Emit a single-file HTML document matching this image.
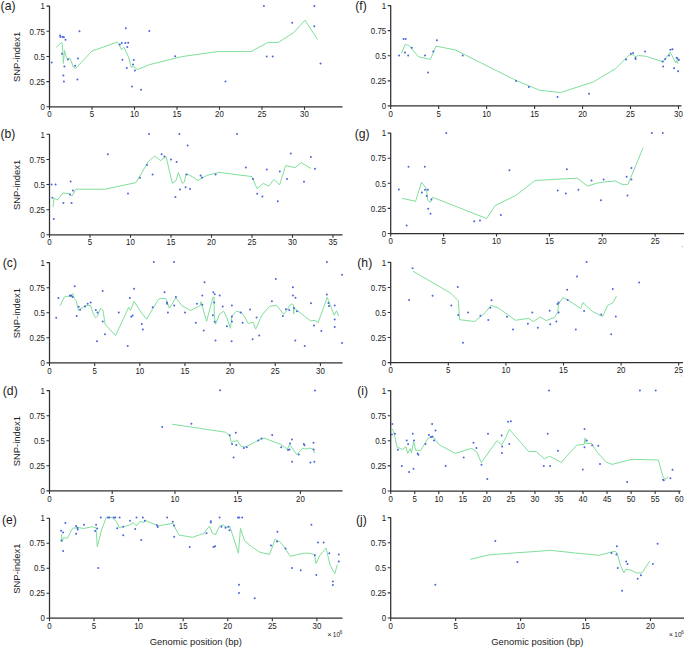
<!DOCTYPE html>
<html><head><meta charset="utf-8"><style>
html,body{margin:0;padding:0;background:#fff;}
body{width:685px;height:648px;overflow:hidden;}
svg{display:block;}
text{font-family:"Liberation Sans",sans-serif;fill:#1a1a1a;}
</style></head><body>
<svg width="685" height="648" viewBox="0 0 685 648">
<path d="M49.50 5.80V106.80H342.50" fill="none" stroke="#303030" stroke-width="1.25"/>
<path d="M46.50 106.80H49.50M46.50 81.62H49.50M46.50 56.45H49.50M46.50 31.27H49.50M46.50 6.10H49.50M49.50 106.80V109.80M92.00 106.80V109.80M134.50 106.80V109.80M177.00 106.80V109.80M219.50 106.80V109.80M262.00 106.80V109.80M304.50 106.80V109.80" fill="none" stroke="#303030" stroke-width="1.1"/>
<text x="48.91" y="110.10" transform="scale(0.92 1)" text-anchor="end" font-size="8.6">0</text>
<text x="48.91" y="84.92" transform="scale(0.92 1)" text-anchor="end" font-size="8.6">0.25</text>
<text x="48.91" y="59.75" transform="scale(0.92 1)" text-anchor="end" font-size="8.6">0.5</text>
<text x="48.91" y="34.57" transform="scale(0.92 1)" text-anchor="end" font-size="8.6">0.75</text>
<text x="48.91" y="9.40" transform="scale(0.92 1)" text-anchor="end" font-size="8.6">1</text>
<text x="53.80" y="117.50" transform="scale(0.92 1)" text-anchor="middle" font-size="8.6">0</text>
<text x="100.00" y="117.50" transform="scale(0.92 1)" text-anchor="middle" font-size="8.6">5</text>
<text x="146.20" y="117.50" transform="scale(0.92 1)" text-anchor="middle" font-size="8.6">10</text>
<text x="192.39" y="117.50" transform="scale(0.92 1)" text-anchor="middle" font-size="8.6">15</text>
<text x="238.59" y="117.50" transform="scale(0.92 1)" text-anchor="middle" font-size="8.6">20</text>
<text x="284.78" y="117.50" transform="scale(0.92 1)" text-anchor="middle" font-size="8.6">25</text>
<text x="330.98" y="117.50" transform="scale(0.92 1)" text-anchor="middle" font-size="8.6">30</text>
<text x="0.60" y="9.80" font-size="12.2">(a)</text>
<text transform="translate(19.7 56.85) rotate(-90)" text-anchor="middle" font-size="9.5" textLength="50.3" lengthAdjust="spacingAndGlyphs">SNP-index1</text>
<path d="M56.2 47.6 L61.5 42.2 L62.3 44.0 L63.4 63.4 L64.5 50.2 L65.8 55.7 L67.2 58.8 L70.1 58.4 L72.0 63.4 L73.4 67.2 L75.8 68.2 L92.0 51.0 L117.5 42.0 L121.6 49.8 L123.9 47.2 L128.5 57.0 L131.4 67.4 L133.1 66.2 L134.0 67.0 L137.4 69.5 L150.0 64.5 L182.0 56.6 L217.5 51.6 L251.0 51.6 L268.1 42.4 L278.4 42.4 L293.4 32.8 L305.0 20.2 L317.6 39.5" fill="none" stroke="#80df9c" stroke-width="1" stroke-linejoin="round"/>
<path d="M50.70 62.60a1.0 1.0 0 1 0 2.0 0a1.0 1.0 0 1 0 -2.0 0M59.00 35.50a1.0 1.0 0 1 0 2.0 0a1.0 1.0 0 1 0 -2.0 0M59.50 37.10a1.0 1.0 0 1 0 2.0 0a1.0 1.0 0 1 0 -2.0 0M61.60 36.80a1.0 1.0 0 1 0 2.0 0a1.0 1.0 0 1 0 -2.0 0M62.90 37.30a1.0 1.0 0 1 0 2.0 0a1.0 1.0 0 1 0 -2.0 0M64.50 39.70a1.0 1.0 0 1 0 2.0 0a1.0 1.0 0 1 0 -2.0 0M61.00 53.80a1.0 1.0 0 1 0 2.0 0a1.0 1.0 0 1 0 -2.0 0M66.90 59.60a1.0 1.0 0 1 0 2.0 0a1.0 1.0 0 1 0 -2.0 0M63.40 66.50a1.0 1.0 0 1 0 2.0 0a1.0 1.0 0 1 0 -2.0 0M62.40 75.50a1.0 1.0 0 1 0 2.0 0a1.0 1.0 0 1 0 -2.0 0M62.90 81.60a1.0 1.0 0 1 0 2.0 0a1.0 1.0 0 1 0 -2.0 0M74.10 65.80a1.0 1.0 0 1 0 2.0 0a1.0 1.0 0 1 0 -2.0 0M76.90 58.60a1.0 1.0 0 1 0 2.0 0a1.0 1.0 0 1 0 -2.0 0M76.40 79.60a1.0 1.0 0 1 0 2.0 0a1.0 1.0 0 1 0 -2.0 0M78.50 31.20a1.0 1.0 0 1 0 2.0 0a1.0 1.0 0 1 0 -2.0 0M124.80 28.30a1.0 1.0 0 1 0 2.0 0a1.0 1.0 0 1 0 -2.0 0M148.30 31.00a1.0 1.0 0 1 0 2.0 0a1.0 1.0 0 1 0 -2.0 0M118.80 44.60a1.0 1.0 0 1 0 2.0 0a1.0 1.0 0 1 0 -2.0 0M120.80 42.90a1.0 1.0 0 1 0 2.0 0a1.0 1.0 0 1 0 -2.0 0M124.40 42.90a1.0 1.0 0 1 0 2.0 0a1.0 1.0 0 1 0 -2.0 0M127.20 42.70a1.0 1.0 0 1 0 2.0 0a1.0 1.0 0 1 0 -2.0 0M126.30 46.90a1.0 1.0 0 1 0 2.0 0a1.0 1.0 0 1 0 -2.0 0M121.40 59.70a1.0 1.0 0 1 0 2.0 0a1.0 1.0 0 1 0 -2.0 0M132.80 59.90a1.0 1.0 0 1 0 2.0 0a1.0 1.0 0 1 0 -2.0 0M132.10 64.50a1.0 1.0 0 1 0 2.0 0a1.0 1.0 0 1 0 -2.0 0M125.80 68.00a1.0 1.0 0 1 0 2.0 0a1.0 1.0 0 1 0 -2.0 0M133.90 70.50a1.0 1.0 0 1 0 2.0 0a1.0 1.0 0 1 0 -2.0 0M131.00 86.50a1.0 1.0 0 1 0 2.0 0a1.0 1.0 0 1 0 -2.0 0M140.00 89.70a1.0 1.0 0 1 0 2.0 0a1.0 1.0 0 1 0 -2.0 0M174.20 56.20a1.0 1.0 0 1 0 2.0 0a1.0 1.0 0 1 0 -2.0 0M224.50 81.40a1.0 1.0 0 1 0 2.0 0a1.0 1.0 0 1 0 -2.0 0M262.90 5.90a1.0 1.0 0 1 0 2.0 0a1.0 1.0 0 1 0 -2.0 0M265.70 56.40a1.0 1.0 0 1 0 2.0 0a1.0 1.0 0 1 0 -2.0 0M271.70 56.40a1.0 1.0 0 1 0 2.0 0a1.0 1.0 0 1 0 -2.0 0M291.20 22.80a1.0 1.0 0 1 0 2.0 0a1.0 1.0 0 1 0 -2.0 0M313.30 5.90a1.0 1.0 0 1 0 2.0 0a1.0 1.0 0 1 0 -2.0 0M313.30 26.20a1.0 1.0 0 1 0 2.0 0a1.0 1.0 0 1 0 -2.0 0M319.50 63.50a1.0 1.0 0 1 0 2.0 0a1.0 1.0 0 1 0 -2.0 0" fill="#4a66de"/>
<path d="M49.50 134.00V234.80H342.50" fill="none" stroke="#303030" stroke-width="1.25"/>
<path d="M46.50 234.80H49.50M46.50 209.68H49.50M46.50 184.55H49.50M46.50 159.43H49.50M46.50 134.30H49.50M49.50 234.80V237.80M90.00 234.80V237.80M130.50 234.80V237.80M171.00 234.80V237.80M211.50 234.80V237.80M252.00 234.80V237.80M292.50 234.80V237.80M333.00 234.80V237.80" fill="none" stroke="#303030" stroke-width="1.1"/>
<text x="48.91" y="238.10" transform="scale(0.92 1)" text-anchor="end" font-size="8.6">0</text>
<text x="48.91" y="212.98" transform="scale(0.92 1)" text-anchor="end" font-size="8.6">0.25</text>
<text x="48.91" y="187.85" transform="scale(0.92 1)" text-anchor="end" font-size="8.6">0.5</text>
<text x="48.91" y="162.73" transform="scale(0.92 1)" text-anchor="end" font-size="8.6">0.75</text>
<text x="48.91" y="137.60" transform="scale(0.92 1)" text-anchor="end" font-size="8.6">1</text>
<text x="53.80" y="245.50" transform="scale(0.92 1)" text-anchor="middle" font-size="8.6">0</text>
<text x="97.83" y="245.50" transform="scale(0.92 1)" text-anchor="middle" font-size="8.6">5</text>
<text x="141.85" y="245.50" transform="scale(0.92 1)" text-anchor="middle" font-size="8.6">10</text>
<text x="185.87" y="245.50" transform="scale(0.92 1)" text-anchor="middle" font-size="8.6">15</text>
<text x="229.89" y="245.50" transform="scale(0.92 1)" text-anchor="middle" font-size="8.6">20</text>
<text x="273.91" y="245.50" transform="scale(0.92 1)" text-anchor="middle" font-size="8.6">25</text>
<text x="317.93" y="245.50" transform="scale(0.92 1)" text-anchor="middle" font-size="8.6">30</text>
<text x="361.96" y="245.50" transform="scale(0.92 1)" text-anchor="middle" font-size="8.6">35</text>
<text x="0.40" y="138.00" font-size="12.2">(b)</text>
<text transform="translate(19.7 184.95) rotate(-90)" text-anchor="middle" font-size="9.5" textLength="50.3" lengthAdjust="spacingAndGlyphs">SNP-index1</text>
<path d="M53.0 207.0 L54.0 198.4 L57.4 200.0 L63.0 193.0 L69.0 193.6 L72.0 196.0 L76.0 189.2 L105.0 189.2 L136.0 182.6 L148.0 162.0 L154.6 156.0 L160.6 160.6 L166.0 156.6 L172.4 183.4 L176.0 180.6 L178.4 172.6 L182.4 183.4 L184.4 182.0 L186.0 174.0 L190.0 175.4 L198.0 180.4 L207.0 175.4 L219.0 172.4 L252.0 176.6 L257.0 188.6 L263.4 183.4 L268.6 186.2 L274.0 179.4 L279.6 185.0 L285.7 165.5 L295.0 167.6 L301.3 162.6 L310.9 168.5" fill="none" stroke="#80df9c" stroke-width="1" stroke-linejoin="round"/>
<path d="M50.60 184.40a1.0 1.0 0 1 0 2.0 0a1.0 1.0 0 1 0 -2.0 0M54.60 184.40a1.0 1.0 0 1 0 2.0 0a1.0 1.0 0 1 0 -2.0 0M51.40 197.80a1.0 1.0 0 1 0 2.0 0a1.0 1.0 0 1 0 -2.0 0M52.80 219.00a1.0 1.0 0 1 0 2.0 0a1.0 1.0 0 1 0 -2.0 0M62.40 203.00a1.0 1.0 0 1 0 2.0 0a1.0 1.0 0 1 0 -2.0 0M69.60 181.60a1.0 1.0 0 1 0 2.0 0a1.0 1.0 0 1 0 -2.0 0M69.00 194.60a1.0 1.0 0 1 0 2.0 0a1.0 1.0 0 1 0 -2.0 0M72.00 190.60a1.0 1.0 0 1 0 2.0 0a1.0 1.0 0 1 0 -2.0 0M70.60 203.00a1.0 1.0 0 1 0 2.0 0a1.0 1.0 0 1 0 -2.0 0M106.80 154.20a1.0 1.0 0 1 0 2.0 0a1.0 1.0 0 1 0 -2.0 0M127.00 193.40a1.0 1.0 0 1 0 2.0 0a1.0 1.0 0 1 0 -2.0 0M139.00 177.80a1.0 1.0 0 1 0 2.0 0a1.0 1.0 0 1 0 -2.0 0M146.00 165.00a1.0 1.0 0 1 0 2.0 0a1.0 1.0 0 1 0 -2.0 0M148.00 134.00a1.0 1.0 0 1 0 2.0 0a1.0 1.0 0 1 0 -2.0 0M151.60 174.40a1.0 1.0 0 1 0 2.0 0a1.0 1.0 0 1 0 -2.0 0M160.60 154.20a1.0 1.0 0 1 0 2.0 0a1.0 1.0 0 1 0 -2.0 0M163.40 156.60a1.0 1.0 0 1 0 2.0 0a1.0 1.0 0 1 0 -2.0 0M170.00 159.40a1.0 1.0 0 1 0 2.0 0a1.0 1.0 0 1 0 -2.0 0M175.60 162.00a1.0 1.0 0 1 0 2.0 0a1.0 1.0 0 1 0 -2.0 0M178.40 134.00a1.0 1.0 0 1 0 2.0 0a1.0 1.0 0 1 0 -2.0 0M174.40 197.00a1.0 1.0 0 1 0 2.0 0a1.0 1.0 0 1 0 -2.0 0M179.00 189.60a1.0 1.0 0 1 0 2.0 0a1.0 1.0 0 1 0 -2.0 0M186.60 145.40a1.0 1.0 0 1 0 2.0 0a1.0 1.0 0 1 0 -2.0 0M184.60 187.20a1.0 1.0 0 1 0 2.0 0a1.0 1.0 0 1 0 -2.0 0M189.00 189.00a1.0 1.0 0 1 0 2.0 0a1.0 1.0 0 1 0 -2.0 0M185.60 174.40a1.0 1.0 0 1 0 2.0 0a1.0 1.0 0 1 0 -2.0 0M199.60 175.60a1.0 1.0 0 1 0 2.0 0a1.0 1.0 0 1 0 -2.0 0M201.00 177.40a1.0 1.0 0 1 0 2.0 0a1.0 1.0 0 1 0 -2.0 0M214.60 174.40a1.0 1.0 0 1 0 2.0 0a1.0 1.0 0 1 0 -2.0 0M236.00 134.00a1.0 1.0 0 1 0 2.0 0a1.0 1.0 0 1 0 -2.0 0M244.80 167.60a1.0 1.0 0 1 0 2.0 0a1.0 1.0 0 1 0 -2.0 0M252.00 179.00a1.0 1.0 0 1 0 2.0 0a1.0 1.0 0 1 0 -2.0 0M256.20 193.80a1.0 1.0 0 1 0 2.0 0a1.0 1.0 0 1 0 -2.0 0M261.40 196.40a1.0 1.0 0 1 0 2.0 0a1.0 1.0 0 1 0 -2.0 0M265.80 169.40a1.0 1.0 0 1 0 2.0 0a1.0 1.0 0 1 0 -2.0 0M276.80 201.20a1.0 1.0 0 1 0 2.0 0a1.0 1.0 0 1 0 -2.0 0M278.80 171.60a1.0 1.0 0 1 0 2.0 0a1.0 1.0 0 1 0 -2.0 0M286.00 179.00a1.0 1.0 0 1 0 2.0 0a1.0 1.0 0 1 0 -2.0 0M289.80 153.40a1.0 1.0 0 1 0 2.0 0a1.0 1.0 0 1 0 -2.0 0M303.00 181.80a1.0 1.0 0 1 0 2.0 0a1.0 1.0 0 1 0 -2.0 0M309.90 157.00a1.0 1.0 0 1 0 2.0 0a1.0 1.0 0 1 0 -2.0 0M314.00 168.80a1.0 1.0 0 1 0 2.0 0a1.0 1.0 0 1 0 -2.0 0" fill="#4a66de"/>
<path d="M49.50 262.30V362.90H342.50" fill="none" stroke="#303030" stroke-width="1.25"/>
<path d="M46.50 362.90H49.50M46.50 337.82H49.50M46.50 312.75H49.50M46.50 287.68H49.50M46.50 262.60H49.50M49.50 362.90V365.90M94.65 362.90V365.90M139.80 362.90V365.90M184.95 362.90V365.90M230.10 362.90V365.90M275.25 362.90V365.90M320.40 362.90V365.90" fill="none" stroke="#303030" stroke-width="1.1"/>
<text x="48.91" y="366.20" transform="scale(0.92 1)" text-anchor="end" font-size="8.6">0</text>
<text x="48.91" y="341.12" transform="scale(0.92 1)" text-anchor="end" font-size="8.6">0.25</text>
<text x="48.91" y="316.05" transform="scale(0.92 1)" text-anchor="end" font-size="8.6">0.5</text>
<text x="48.91" y="290.98" transform="scale(0.92 1)" text-anchor="end" font-size="8.6">0.75</text>
<text x="48.91" y="265.90" transform="scale(0.92 1)" text-anchor="end" font-size="8.6">1</text>
<text x="53.80" y="373.60" transform="scale(0.92 1)" text-anchor="middle" font-size="8.6">0</text>
<text x="102.88" y="373.60" transform="scale(0.92 1)" text-anchor="middle" font-size="8.6">5</text>
<text x="151.96" y="373.60" transform="scale(0.92 1)" text-anchor="middle" font-size="8.6">10</text>
<text x="201.03" y="373.60" transform="scale(0.92 1)" text-anchor="middle" font-size="8.6">15</text>
<text x="250.11" y="373.60" transform="scale(0.92 1)" text-anchor="middle" font-size="8.6">20</text>
<text x="299.18" y="373.60" transform="scale(0.92 1)" text-anchor="middle" font-size="8.6">25</text>
<text x="348.26" y="373.60" transform="scale(0.92 1)" text-anchor="middle" font-size="8.6">30</text>
<text x="2.80" y="266.90" font-size="12.2">(c)</text>
<text transform="translate(19.7 313.15) rotate(-90)" text-anchor="middle" font-size="9.5" textLength="50.3" lengthAdjust="spacingAndGlyphs">SNP-index1</text>
<path d="M60.2 305.6 L64.5 296.9 L67.7 296.3 L71.2 296.5 L72.9 293.7 L73.3 297.0 L76.0 300.7 L78.5 310.5 L85.1 305.6 L90.7 305.6 L93.0 313.4 L95.6 317.8 L97.5 316.0 L100.5 308.4 L102.9 310.0 L105.2 324.4 L115.6 335.6 L128.7 307.3 L130.5 310.5 L134.0 301.2 L140.1 310.8 L146.5 319.2 L158.3 299.5 L160.9 298.3 L165.8 298.6 L169.3 308.2 L171.5 305.0 L175.8 297.7 L181.9 305.6 L190.6 310.5 L200.2 305.6 L201.0 301.7 L206.6 321.3 L212.9 297.4 L214.0 297.0 L214.3 316.0 L215.5 324.2 L219.4 314.3 L223.7 311.2 L227.0 318.0 L230.4 328.3 L231.9 316.0 L236.3 311.2 L241.2 312.6 L244.0 316.0 L248.4 323.5 L253.1 322.2 L255.7 329.1 L262.0 315.0 L269.3 306.5 L276.6 305.2 L283.6 314.3 L286.5 311.0 L289.7 305.6 L292.3 303.8 L293.5 305.0 L293.7 314.0 L294.0 308.0 L297.6 310.8 L310.6 320.9 L315.0 320.4 L318.1 322.7 L327.2 297.4 L329.0 302.0 L334.2 315.2 L336.5 310.8 L338.6 316.0" fill="none" stroke="#80df9c" stroke-width="1" stroke-linejoin="round"/>
<path d="M55.20 317.80a1.0 1.0 0 1 0 2.0 0a1.0 1.0 0 1 0 -2.0 0M57.40 298.10a1.0 1.0 0 1 0 2.0 0a1.0 1.0 0 1 0 -2.0 0M68.90 295.60a1.0 1.0 0 1 0 2.0 0a1.0 1.0 0 1 0 -2.0 0M70.20 295.60a1.0 1.0 0 1 0 2.0 0a1.0 1.0 0 1 0 -2.0 0M71.60 296.90a1.0 1.0 0 1 0 2.0 0a1.0 1.0 0 1 0 -2.0 0M73.70 286.20a1.0 1.0 0 1 0 2.0 0a1.0 1.0 0 1 0 -2.0 0M77.70 306.80a1.0 1.0 0 1 0 2.0 0a1.0 1.0 0 1 0 -2.0 0M79.10 309.80a1.0 1.0 0 1 0 2.0 0a1.0 1.0 0 1 0 -2.0 0M75.70 315.90a1.0 1.0 0 1 0 2.0 0a1.0 1.0 0 1 0 -2.0 0M84.10 306.50a1.0 1.0 0 1 0 2.0 0a1.0 1.0 0 1 0 -2.0 0M86.70 303.80a1.0 1.0 0 1 0 2.0 0a1.0 1.0 0 1 0 -2.0 0M89.70 302.40a1.0 1.0 0 1 0 2.0 0a1.0 1.0 0 1 0 -2.0 0M94.80 309.90a1.0 1.0 0 1 0 2.0 0a1.0 1.0 0 1 0 -2.0 0M96.50 312.60a1.0 1.0 0 1 0 2.0 0a1.0 1.0 0 1 0 -2.0 0M101.70 290.90a1.0 1.0 0 1 0 2.0 0a1.0 1.0 0 1 0 -2.0 0M101.70 321.50a1.0 1.0 0 1 0 2.0 0a1.0 1.0 0 1 0 -2.0 0M104.00 334.20a1.0 1.0 0 1 0 2.0 0a1.0 1.0 0 1 0 -2.0 0M96.00 341.30a1.0 1.0 0 1 0 2.0 0a1.0 1.0 0 1 0 -2.0 0M117.80 312.60a1.0 1.0 0 1 0 2.0 0a1.0 1.0 0 1 0 -2.0 0M128.80 298.10a1.0 1.0 0 1 0 2.0 0a1.0 1.0 0 1 0 -2.0 0M133.10 288.80a1.0 1.0 0 1 0 2.0 0a1.0 1.0 0 1 0 -2.0 0M130.20 316.70a1.0 1.0 0 1 0 2.0 0a1.0 1.0 0 1 0 -2.0 0M131.70 315.50a1.0 1.0 0 1 0 2.0 0a1.0 1.0 0 1 0 -2.0 0M126.70 346.00a1.0 1.0 0 1 0 2.0 0a1.0 1.0 0 1 0 -2.0 0M140.80 323.90a1.0 1.0 0 1 0 2.0 0a1.0 1.0 0 1 0 -2.0 0M141.90 329.50a1.0 1.0 0 1 0 2.0 0a1.0 1.0 0 1 0 -2.0 0M152.80 262.00a1.0 1.0 0 1 0 2.0 0a1.0 1.0 0 1 0 -2.0 0M173.00 262.00a1.0 1.0 0 1 0 2.0 0a1.0 1.0 0 1 0 -2.0 0M151.70 307.30a1.0 1.0 0 1 0 2.0 0a1.0 1.0 0 1 0 -2.0 0M163.60 292.20a1.0 1.0 0 1 0 2.0 0a1.0 1.0 0 1 0 -2.0 0M166.00 302.40a1.0 1.0 0 1 0 2.0 0a1.0 1.0 0 1 0 -2.0 0M166.00 303.80a1.0 1.0 0 1 0 2.0 0a1.0 1.0 0 1 0 -2.0 0M166.90 312.60a1.0 1.0 0 1 0 2.0 0a1.0 1.0 0 1 0 -2.0 0M173.20 305.40a1.0 1.0 0 1 0 2.0 0a1.0 1.0 0 1 0 -2.0 0M174.90 296.90a1.0 1.0 0 1 0 2.0 0a1.0 1.0 0 1 0 -2.0 0M184.00 312.60a1.0 1.0 0 1 0 2.0 0a1.0 1.0 0 1 0 -2.0 0M194.80 322.70a1.0 1.0 0 1 0 2.0 0a1.0 1.0 0 1 0 -2.0 0M195.90 303.80a1.0 1.0 0 1 0 2.0 0a1.0 1.0 0 1 0 -2.0 0M201.30 295.60a1.0 1.0 0 1 0 2.0 0a1.0 1.0 0 1 0 -2.0 0M201.30 304.70a1.0 1.0 0 1 0 2.0 0a1.0 1.0 0 1 0 -2.0 0M203.50 282.20a1.0 1.0 0 1 0 2.0 0a1.0 1.0 0 1 0 -2.0 0M202.70 330.40a1.0 1.0 0 1 0 2.0 0a1.0 1.0 0 1 0 -2.0 0M212.30 292.20a1.0 1.0 0 1 0 2.0 0a1.0 1.0 0 1 0 -2.0 0M213.70 294.20a1.0 1.0 0 1 0 2.0 0a1.0 1.0 0 1 0 -2.0 0M218.70 295.60a1.0 1.0 0 1 0 2.0 0a1.0 1.0 0 1 0 -2.0 0M213.10 302.40a1.0 1.0 0 1 0 2.0 0a1.0 1.0 0 1 0 -2.0 0M211.90 315.20a1.0 1.0 0 1 0 2.0 0a1.0 1.0 0 1 0 -2.0 0M213.70 321.80a1.0 1.0 0 1 0 2.0 0a1.0 1.0 0 1 0 -2.0 0M214.50 340.60a1.0 1.0 0 1 0 2.0 0a1.0 1.0 0 1 0 -2.0 0M221.70 306.60a1.0 1.0 0 1 0 2.0 0a1.0 1.0 0 1 0 -2.0 0M225.90 326.20a1.0 1.0 0 1 0 2.0 0a1.0 1.0 0 1 0 -2.0 0M230.90 305.40a1.0 1.0 0 1 0 2.0 0a1.0 1.0 0 1 0 -2.0 0M230.90 316.40a1.0 1.0 0 1 0 2.0 0a1.0 1.0 0 1 0 -2.0 0M230.90 321.50a1.0 1.0 0 1 0 2.0 0a1.0 1.0 0 1 0 -2.0 0M230.60 341.30a1.0 1.0 0 1 0 2.0 0a1.0 1.0 0 1 0 -2.0 0M239.80 312.60a1.0 1.0 0 1 0 2.0 0a1.0 1.0 0 1 0 -2.0 0M241.60 322.70a1.0 1.0 0 1 0 2.0 0a1.0 1.0 0 1 0 -2.0 0M249.10 309.60a1.0 1.0 0 1 0 2.0 0a1.0 1.0 0 1 0 -2.0 0M255.60 317.40a1.0 1.0 0 1 0 2.0 0a1.0 1.0 0 1 0 -2.0 0M258.20 335.60a1.0 1.0 0 1 0 2.0 0a1.0 1.0 0 1 0 -2.0 0M251.60 339.20a1.0 1.0 0 1 0 2.0 0a1.0 1.0 0 1 0 -2.0 0M270.90 301.20a1.0 1.0 0 1 0 2.0 0a1.0 1.0 0 1 0 -2.0 0M274.80 278.90a1.0 1.0 0 1 0 2.0 0a1.0 1.0 0 1 0 -2.0 0M281.90 316.00a1.0 1.0 0 1 0 2.0 0a1.0 1.0 0 1 0 -2.0 0M284.90 309.20a1.0 1.0 0 1 0 2.0 0a1.0 1.0 0 1 0 -2.0 0M288.20 310.10a1.0 1.0 0 1 0 2.0 0a1.0 1.0 0 1 0 -2.0 0M291.90 287.30a1.0 1.0 0 1 0 2.0 0a1.0 1.0 0 1 0 -2.0 0M291.90 295.60a1.0 1.0 0 1 0 2.0 0a1.0 1.0 0 1 0 -2.0 0M294.50 297.70a1.0 1.0 0 1 0 2.0 0a1.0 1.0 0 1 0 -2.0 0M293.10 307.90a1.0 1.0 0 1 0 2.0 0a1.0 1.0 0 1 0 -2.0 0M296.00 311.30a1.0 1.0 0 1 0 2.0 0a1.0 1.0 0 1 0 -2.0 0M294.30 340.50a1.0 1.0 0 1 0 2.0 0a1.0 1.0 0 1 0 -2.0 0M303.70 346.00a1.0 1.0 0 1 0 2.0 0a1.0 1.0 0 1 0 -2.0 0M310.00 303.30a1.0 1.0 0 1 0 2.0 0a1.0 1.0 0 1 0 -2.0 0M313.00 325.60a1.0 1.0 0 1 0 2.0 0a1.0 1.0 0 1 0 -2.0 0M320.30 330.90a1.0 1.0 0 1 0 2.0 0a1.0 1.0 0 1 0 -2.0 0M325.90 262.00a1.0 1.0 0 1 0 2.0 0a1.0 1.0 0 1 0 -2.0 0M325.90 294.60a1.0 1.0 0 1 0 2.0 0a1.0 1.0 0 1 0 -2.0 0M327.40 303.00a1.0 1.0 0 1 0 2.0 0a1.0 1.0 0 1 0 -2.0 0M328.00 306.10a1.0 1.0 0 1 0 2.0 0a1.0 1.0 0 1 0 -2.0 0M333.70 305.40a1.0 1.0 0 1 0 2.0 0a1.0 1.0 0 1 0 -2.0 0M333.70 319.50a1.0 1.0 0 1 0 2.0 0a1.0 1.0 0 1 0 -2.0 0M333.70 326.90a1.0 1.0 0 1 0 2.0 0a1.0 1.0 0 1 0 -2.0 0M341.00 274.70a1.0 1.0 0 1 0 2.0 0a1.0 1.0 0 1 0 -2.0 0M341.00 342.90a1.0 1.0 0 1 0 2.0 0a1.0 1.0 0 1 0 -2.0 0" fill="#4a66de"/>
<path d="M49.50 390.30V490.90H342.50" fill="none" stroke="#303030" stroke-width="1.25"/>
<path d="M46.50 490.90H49.50M46.50 465.82H49.50M46.50 440.75H49.50M46.50 415.68H49.50M46.50 390.60H49.50M49.50 490.90V493.90M112.22 490.90V493.90M174.95 490.90V493.90M237.68 490.90V493.90M300.40 490.90V493.90" fill="none" stroke="#303030" stroke-width="1.1"/>
<text x="48.91" y="494.20" transform="scale(0.92 1)" text-anchor="end" font-size="8.6">0</text>
<text x="48.91" y="469.12" transform="scale(0.92 1)" text-anchor="end" font-size="8.6">0.25</text>
<text x="48.91" y="444.05" transform="scale(0.92 1)" text-anchor="end" font-size="8.6">0.5</text>
<text x="48.91" y="418.98" transform="scale(0.92 1)" text-anchor="end" font-size="8.6">0.75</text>
<text x="48.91" y="393.90" transform="scale(0.92 1)" text-anchor="end" font-size="8.6">1</text>
<text x="53.80" y="501.60" transform="scale(0.92 1)" text-anchor="middle" font-size="8.6">0</text>
<text x="121.98" y="501.60" transform="scale(0.92 1)" text-anchor="middle" font-size="8.6">5</text>
<text x="190.16" y="501.60" transform="scale(0.92 1)" text-anchor="middle" font-size="8.6">10</text>
<text x="258.34" y="501.60" transform="scale(0.92 1)" text-anchor="middle" font-size="8.6">15</text>
<text x="326.52" y="501.60" transform="scale(0.92 1)" text-anchor="middle" font-size="8.6">20</text>
<text x="2.80" y="394.90" font-size="12.2">(d)</text>
<text transform="translate(19.7 441.15) rotate(-90)" text-anchor="middle" font-size="9.5" textLength="50.3" lengthAdjust="spacingAndGlyphs">SNP-index1</text>
<path d="M172.1 424.2 L225.5 432.2 L229.7 435.6 L231.4 442.7 L233.1 441.0 L235.0 441.5 L237.0 440.1 L240.8 446.1 L244.1 446.9 L247.5 446.1 L258.7 440.1 L264.1 438.1 L280.7 444.4 L287.5 449.1 L289.5 444.4 L290.9 446.1 L296.8 454.6 L302.8 448.1 L305.3 449.1 L309.9 448.1 L313.8 449.5 L314.3 453.4" fill="none" stroke="#80df9c" stroke-width="1" stroke-linejoin="round"/>
<path d="M161.20 426.90a1.0 1.0 0 1 0 2.0 0a1.0 1.0 0 1 0 -2.0 0M190.40 423.80a1.0 1.0 0 1 0 2.0 0a1.0 1.0 0 1 0 -2.0 0M219.10 390.30a1.0 1.0 0 1 0 2.0 0a1.0 1.0 0 1 0 -2.0 0M228.70 435.20a1.0 1.0 0 1 0 2.0 0a1.0 1.0 0 1 0 -2.0 0M234.80 432.80a1.0 1.0 0 1 0 2.0 0a1.0 1.0 0 1 0 -2.0 0M231.10 443.90a1.0 1.0 0 1 0 2.0 0a1.0 1.0 0 1 0 -2.0 0M235.30 444.90a1.0 1.0 0 1 0 2.0 0a1.0 1.0 0 1 0 -2.0 0M232.60 457.60a1.0 1.0 0 1 0 2.0 0a1.0 1.0 0 1 0 -2.0 0M242.80 447.90a1.0 1.0 0 1 0 2.0 0a1.0 1.0 0 1 0 -2.0 0M245.70 447.30a1.0 1.0 0 1 0 2.0 0a1.0 1.0 0 1 0 -2.0 0M257.30 440.60a1.0 1.0 0 1 0 2.0 0a1.0 1.0 0 1 0 -2.0 0M260.50 438.60a1.0 1.0 0 1 0 2.0 0a1.0 1.0 0 1 0 -2.0 0M271.20 435.00a1.0 1.0 0 1 0 2.0 0a1.0 1.0 0 1 0 -2.0 0M280.20 447.30a1.0 1.0 0 1 0 2.0 0a1.0 1.0 0 1 0 -2.0 0M287.00 450.00a1.0 1.0 0 1 0 2.0 0a1.0 1.0 0 1 0 -2.0 0M288.50 449.50a1.0 1.0 0 1 0 2.0 0a1.0 1.0 0 1 0 -2.0 0M289.00 443.40a1.0 1.0 0 1 0 2.0 0a1.0 1.0 0 1 0 -2.0 0M290.90 439.60a1.0 1.0 0 1 0 2.0 0a1.0 1.0 0 1 0 -2.0 0M291.10 461.70a1.0 1.0 0 1 0 2.0 0a1.0 1.0 0 1 0 -2.0 0M297.70 454.60a1.0 1.0 0 1 0 2.0 0a1.0 1.0 0 1 0 -2.0 0M302.80 444.00a1.0 1.0 0 1 0 2.0 0a1.0 1.0 0 1 0 -2.0 0M303.50 445.20a1.0 1.0 0 1 0 2.0 0a1.0 1.0 0 1 0 -2.0 0M312.50 442.70a1.0 1.0 0 1 0 2.0 0a1.0 1.0 0 1 0 -2.0 0M312.60 449.50a1.0 1.0 0 1 0 2.0 0a1.0 1.0 0 1 0 -2.0 0M309.40 462.40a1.0 1.0 0 1 0 2.0 0a1.0 1.0 0 1 0 -2.0 0M313.30 461.70a1.0 1.0 0 1 0 2.0 0a1.0 1.0 0 1 0 -2.0 0M314.00 390.40a1.0 1.0 0 1 0 2.0 0a1.0 1.0 0 1 0 -2.0 0" fill="#4a66de"/>
<path d="M49.50 517.90V618.20H342.50" fill="none" stroke="#303030" stroke-width="1.25"/>
<path d="M46.50 618.20H49.50M46.50 593.20H49.50M46.50 568.20H49.50M46.50 543.20H49.50M46.50 518.20H49.50M49.50 618.20V621.20M94.06 618.20V621.20M138.63 618.20V621.20M183.19 618.20V621.20M227.76 618.20V621.20M272.33 618.20V621.20M316.89 618.20V621.20" fill="none" stroke="#303030" stroke-width="1.1"/>
<text x="48.91" y="621.50" transform="scale(0.92 1)" text-anchor="end" font-size="8.6">0</text>
<text x="48.91" y="596.50" transform="scale(0.92 1)" text-anchor="end" font-size="8.6">0.25</text>
<text x="48.91" y="571.50" transform="scale(0.92 1)" text-anchor="end" font-size="8.6">0.5</text>
<text x="48.91" y="546.50" transform="scale(0.92 1)" text-anchor="end" font-size="8.6">0.75</text>
<text x="48.91" y="521.50" transform="scale(0.92 1)" text-anchor="end" font-size="8.6">1</text>
<text x="53.80" y="628.90" transform="scale(0.92 1)" text-anchor="middle" font-size="8.6">0</text>
<text x="102.24" y="628.90" transform="scale(0.92 1)" text-anchor="middle" font-size="8.6">5</text>
<text x="150.68" y="628.90" transform="scale(0.92 1)" text-anchor="middle" font-size="8.6">10</text>
<text x="199.12" y="628.90" transform="scale(0.92 1)" text-anchor="middle" font-size="8.6">15</text>
<text x="247.57" y="628.90" transform="scale(0.92 1)" text-anchor="middle" font-size="8.6">20</text>
<text x="296.01" y="628.90" transform="scale(0.92 1)" text-anchor="middle" font-size="8.6">25</text>
<text x="344.45" y="628.90" transform="scale(0.92 1)" text-anchor="middle" font-size="8.6">30</text>
<text x="1.90" y="523.70" font-size="12.2">(e)</text>
<text transform="translate(19.7 568.60) rotate(-90)" text-anchor="middle" font-size="9.5" textLength="50.3" lengthAdjust="spacingAndGlyphs">SNP-index1</text>
<path d="M61.4 534.2 L62.3 542.0 L63.1 538.0 L67.5 538.0 L72.6 528.1 L79.5 527.8 L83.9 528.5 L91.6 526.8 L96.0 527.6 L97.3 546.8 L101.5 530.0 L106.3 517.4 L112.4 517.4 L116.7 522.1 L119.3 527.6 L124.4 526.4 L129.6 525.2 L133.1 522.4 L136.5 525.9 L140.0 521.2 L143.1 522.4 L146.0 520.7 L158.1 525.9 L172.8 523.3 L178.9 535.0 L192.7 537.3 L203.9 533.3 L209.4 526.1 L212.5 533.3 L215.5 534.5 L219.4 526.4 L222.9 524.7 L226.4 527.3 L229.8 526.4 L238.4 553.2 L240.5 528.2 L244.5 540.8 L252.3 547.2 L260.1 552.4 L269.6 554.4 L275.1 539.4 L280.3 542.0 L284.3 547.2 L290.3 556.4 L297.3 554.6 L304.2 553.2 L309.4 553.2 L314.6 554.6 L315.9 563.6 L319.7 555.8 L326.1 548.0 L330.1 565.3 L334.8 573.6 L337.4 564.5" fill="none" stroke="#80df9c" stroke-width="1" stroke-linejoin="round"/>
<path d="M60.10 530.70a1.0 1.0 0 1 0 2.0 0a1.0 1.0 0 1 0 -2.0 0M62.10 532.50a1.0 1.0 0 1 0 2.0 0a1.0 1.0 0 1 0 -2.0 0M64.40 523.00a1.0 1.0 0 1 0 2.0 0a1.0 1.0 0 1 0 -2.0 0M60.40 540.60a1.0 1.0 0 1 0 2.0 0a1.0 1.0 0 1 0 -2.0 0M62.10 550.90a1.0 1.0 0 1 0 2.0 0a1.0 1.0 0 1 0 -2.0 0M75.10 525.90a1.0 1.0 0 1 0 2.0 0a1.0 1.0 0 1 0 -2.0 0M76.50 527.80a1.0 1.0 0 1 0 2.0 0a1.0 1.0 0 1 0 -2.0 0M76.80 529.50a1.0 1.0 0 1 0 2.0 0a1.0 1.0 0 1 0 -2.0 0M75.10 533.70a1.0 1.0 0 1 0 2.0 0a1.0 1.0 0 1 0 -2.0 0M83.00 524.70a1.0 1.0 0 1 0 2.0 0a1.0 1.0 0 1 0 -2.0 0M95.10 524.70a1.0 1.0 0 1 0 2.0 0a1.0 1.0 0 1 0 -2.0 0M96.20 528.50a1.0 1.0 0 1 0 2.0 0a1.0 1.0 0 1 0 -2.0 0M94.10 530.90a1.0 1.0 0 1 0 2.0 0a1.0 1.0 0 1 0 -2.0 0M97.20 567.90a1.0 1.0 0 1 0 2.0 0a1.0 1.0 0 1 0 -2.0 0M99.80 517.40a1.0 1.0 0 1 0 2.0 0a1.0 1.0 0 1 0 -2.0 0M107.00 517.40a1.0 1.0 0 1 0 2.0 0a1.0 1.0 0 1 0 -2.0 0M108.20 517.40a1.0 1.0 0 1 0 2.0 0a1.0 1.0 0 1 0 -2.0 0M112.70 517.40a1.0 1.0 0 1 0 2.0 0a1.0 1.0 0 1 0 -2.0 0M114.30 517.40a1.0 1.0 0 1 0 2.0 0a1.0 1.0 0 1 0 -2.0 0M118.60 517.40a1.0 1.0 0 1 0 2.0 0a1.0 1.0 0 1 0 -2.0 0M116.20 528.30a1.0 1.0 0 1 0 2.0 0a1.0 1.0 0 1 0 -2.0 0M122.20 526.80a1.0 1.0 0 1 0 2.0 0a1.0 1.0 0 1 0 -2.0 0M122.20 535.20a1.0 1.0 0 1 0 2.0 0a1.0 1.0 0 1 0 -2.0 0M129.00 520.70a1.0 1.0 0 1 0 2.0 0a1.0 1.0 0 1 0 -2.0 0M135.50 517.40a1.0 1.0 0 1 0 2.0 0a1.0 1.0 0 1 0 -2.0 0M134.20 529.00a1.0 1.0 0 1 0 2.0 0a1.0 1.0 0 1 0 -2.0 0M141.90 517.40a1.0 1.0 0 1 0 2.0 0a1.0 1.0 0 1 0 -2.0 0M143.80 520.70a1.0 1.0 0 1 0 2.0 0a1.0 1.0 0 1 0 -2.0 0M140.20 539.90a1.0 1.0 0 1 0 2.0 0a1.0 1.0 0 1 0 -2.0 0M155.90 525.20a1.0 1.0 0 1 0 2.0 0a1.0 1.0 0 1 0 -2.0 0M156.80 526.90a1.0 1.0 0 1 0 2.0 0a1.0 1.0 0 1 0 -2.0 0M166.10 517.40a1.0 1.0 0 1 0 2.0 0a1.0 1.0 0 1 0 -2.0 0M171.80 521.70a1.0 1.0 0 1 0 2.0 0a1.0 1.0 0 1 0 -2.0 0M173.00 525.50a1.0 1.0 0 1 0 2.0 0a1.0 1.0 0 1 0 -2.0 0M173.20 536.80a1.0 1.0 0 1 0 2.0 0a1.0 1.0 0 1 0 -2.0 0M188.70 547.10a1.0 1.0 0 1 0 2.0 0a1.0 1.0 0 1 0 -2.0 0M205.50 533.30a1.0 1.0 0 1 0 2.0 0a1.0 1.0 0 1 0 -2.0 0M209.80 521.20a1.0 1.0 0 1 0 2.0 0a1.0 1.0 0 1 0 -2.0 0M209.80 522.60a1.0 1.0 0 1 0 2.0 0a1.0 1.0 0 1 0 -2.0 0M212.40 547.10a1.0 1.0 0 1 0 2.0 0a1.0 1.0 0 1 0 -2.0 0M214.10 546.30a1.0 1.0 0 1 0 2.0 0a1.0 1.0 0 1 0 -2.0 0M218.60 517.40a1.0 1.0 0 1 0 2.0 0a1.0 1.0 0 1 0 -2.0 0M220.50 526.80a1.0 1.0 0 1 0 2.0 0a1.0 1.0 0 1 0 -2.0 0M224.50 527.80a1.0 1.0 0 1 0 2.0 0a1.0 1.0 0 1 0 -2.0 0M227.40 526.80a1.0 1.0 0 1 0 2.0 0a1.0 1.0 0 1 0 -2.0 0M228.50 530.20a1.0 1.0 0 1 0 2.0 0a1.0 1.0 0 1 0 -2.0 0M236.90 517.40a1.0 1.0 0 1 0 2.0 0a1.0 1.0 0 1 0 -2.0 0M238.30 517.40a1.0 1.0 0 1 0 2.0 0a1.0 1.0 0 1 0 -2.0 0M241.20 517.40a1.0 1.0 0 1 0 2.0 0a1.0 1.0 0 1 0 -2.0 0M238.00 584.80a1.0 1.0 0 1 0 2.0 0a1.0 1.0 0 1 0 -2.0 0M238.00 592.90a1.0 1.0 0 1 0 2.0 0a1.0 1.0 0 1 0 -2.0 0M253.70 598.20a1.0 1.0 0 1 0 2.0 0a1.0 1.0 0 1 0 -2.0 0M270.00 545.50a1.0 1.0 0 1 0 2.0 0a1.0 1.0 0 1 0 -2.0 0M276.40 531.80a1.0 1.0 0 1 0 2.0 0a1.0 1.0 0 1 0 -2.0 0M276.00 541.60a1.0 1.0 0 1 0 2.0 0a1.0 1.0 0 1 0 -2.0 0M284.50 548.60a1.0 1.0 0 1 0 2.0 0a1.0 1.0 0 1 0 -2.0 0M291.10 567.90a1.0 1.0 0 1 0 2.0 0a1.0 1.0 0 1 0 -2.0 0M299.70 570.20a1.0 1.0 0 1 0 2.0 0a1.0 1.0 0 1 0 -2.0 0M310.40 524.70a1.0 1.0 0 1 0 2.0 0a1.0 1.0 0 1 0 -2.0 0M317.00 542.50a1.0 1.0 0 1 0 2.0 0a1.0 1.0 0 1 0 -2.0 0M322.60 542.50a1.0 1.0 0 1 0 2.0 0a1.0 1.0 0 1 0 -2.0 0M313.90 555.30a1.0 1.0 0 1 0 2.0 0a1.0 1.0 0 1 0 -2.0 0M315.30 575.00a1.0 1.0 0 1 0 2.0 0a1.0 1.0 0 1 0 -2.0 0M328.30 553.20a1.0 1.0 0 1 0 2.0 0a1.0 1.0 0 1 0 -2.0 0M331.90 581.60a1.0 1.0 0 1 0 2.0 0a1.0 1.0 0 1 0 -2.0 0M331.90 584.90a1.0 1.0 0 1 0 2.0 0a1.0 1.0 0 1 0 -2.0 0M337.80 554.40a1.0 1.0 0 1 0 2.0 0a1.0 1.0 0 1 0 -2.0 0M337.80 561.50a1.0 1.0 0 1 0 2.0 0a1.0 1.0 0 1 0 -2.0 0" fill="#4a66de"/>
<path d="M390.70 5.30V105.90H681.50" fill="none" stroke="#303030" stroke-width="1.25"/>
<path d="M387.70 105.90H390.70M387.70 80.83H390.70M387.70 55.75H390.70M387.70 30.67H390.70M387.70 5.60H390.70M390.70 105.90V108.90M438.66 105.90V108.90M486.63 105.90V108.90M534.60 105.90V108.90M582.56 105.90V108.90M630.52 105.90V108.90M678.49 105.90V108.90" fill="none" stroke="#303030" stroke-width="1.1"/>
<text x="419.78" y="109.20" transform="scale(0.92 1)" text-anchor="end" font-size="8.6">0</text>
<text x="419.78" y="84.12" transform="scale(0.92 1)" text-anchor="end" font-size="8.6">0.25</text>
<text x="419.78" y="59.05" transform="scale(0.92 1)" text-anchor="end" font-size="8.6">0.5</text>
<text x="419.78" y="33.97" transform="scale(0.92 1)" text-anchor="end" font-size="8.6">0.75</text>
<text x="419.78" y="8.90" transform="scale(0.92 1)" text-anchor="end" font-size="8.6">1</text>
<text x="424.67" y="116.60" transform="scale(0.92 1)" text-anchor="middle" font-size="8.6">0</text>
<text x="476.81" y="116.60" transform="scale(0.92 1)" text-anchor="middle" font-size="8.6">5</text>
<text x="528.95" y="116.60" transform="scale(0.92 1)" text-anchor="middle" font-size="8.6">10</text>
<text x="581.08" y="116.60" transform="scale(0.92 1)" text-anchor="middle" font-size="8.6">15</text>
<text x="633.22" y="116.60" transform="scale(0.92 1)" text-anchor="middle" font-size="8.6">20</text>
<text x="685.35" y="116.60" transform="scale(0.92 1)" text-anchor="middle" font-size="8.6">25</text>
<text x="737.49" y="116.60" transform="scale(0.92 1)" text-anchor="middle" font-size="8.6">30</text>
<text x="355.30" y="9.70" font-size="12.2">(f)</text>
<path d="M401.6 53.4 L405.2 44.1 L406.5 45.2 L408.4 45.0 L418.6 56.8 L430.4 59.4 L436.0 46.1 L455.5 50.0 L480.0 62.4 L515.6 80.2 L539.4 90.2 L560.6 92.6 L580.0 86.2 L592.7 82.3 L615.6 68.7 L629.2 55.1 L632.9 54.6 L635.1 56.8 L638.5 55.5 L646.2 56.3 L663.1 61.9 L670.2 52.2 L675.8 62.8 L677.0 60.2 L677.9 63.6" fill="none" stroke="#80df9c" stroke-width="1" stroke-linejoin="round"/>
<path d="M398.10 55.60a1.0 1.0 0 1 0 2.0 0a1.0 1.0 0 1 0 -2.0 0M402.50 39.00a1.0 1.0 0 1 0 2.0 0a1.0 1.0 0 1 0 -2.0 0M404.70 39.00a1.0 1.0 0 1 0 2.0 0a1.0 1.0 0 1 0 -2.0 0M404.00 52.40a1.0 1.0 0 1 0 2.0 0a1.0 1.0 0 1 0 -2.0 0M407.20 55.60a1.0 1.0 0 1 0 2.0 0a1.0 1.0 0 1 0 -2.0 0M410.80 47.80a1.0 1.0 0 1 0 2.0 0a1.0 1.0 0 1 0 -2.0 0M424.00 55.60a1.0 1.0 0 1 0 2.0 0a1.0 1.0 0 1 0 -2.0 0M427.10 72.60a1.0 1.0 0 1 0 2.0 0a1.0 1.0 0 1 0 -2.0 0M432.30 51.60a1.0 1.0 0 1 0 2.0 0a1.0 1.0 0 1 0 -2.0 0M435.90 40.20a1.0 1.0 0 1 0 2.0 0a1.0 1.0 0 1 0 -2.0 0M461.70 55.60a1.0 1.0 0 1 0 2.0 0a1.0 1.0 0 1 0 -2.0 0M515.00 80.90a1.0 1.0 0 1 0 2.0 0a1.0 1.0 0 1 0 -2.0 0M527.90 87.00a1.0 1.0 0 1 0 2.0 0a1.0 1.0 0 1 0 -2.0 0M556.50 96.90a1.0 1.0 0 1 0 2.0 0a1.0 1.0 0 1 0 -2.0 0M588.00 93.80a1.0 1.0 0 1 0 2.0 0a1.0 1.0 0 1 0 -2.0 0M625.10 59.40a1.0 1.0 0 1 0 2.0 0a1.0 1.0 0 1 0 -2.0 0M629.90 53.80a1.0 1.0 0 1 0 2.0 0a1.0 1.0 0 1 0 -2.0 0M632.10 52.90a1.0 1.0 0 1 0 2.0 0a1.0 1.0 0 1 0 -2.0 0M634.50 58.00a1.0 1.0 0 1 0 2.0 0a1.0 1.0 0 1 0 -2.0 0M634.60 59.00a1.0 1.0 0 1 0 2.0 0a1.0 1.0 0 1 0 -2.0 0M644.00 51.60a1.0 1.0 0 1 0 2.0 0a1.0 1.0 0 1 0 -2.0 0M661.60 61.40a1.0 1.0 0 1 0 2.0 0a1.0 1.0 0 1 0 -2.0 0M662.10 66.50a1.0 1.0 0 1 0 2.0 0a1.0 1.0 0 1 0 -2.0 0M664.20 59.00a1.0 1.0 0 1 0 2.0 0a1.0 1.0 0 1 0 -2.0 0M668.10 55.60a1.0 1.0 0 1 0 2.0 0a1.0 1.0 0 1 0 -2.0 0M669.40 49.70a1.0 1.0 0 1 0 2.0 0a1.0 1.0 0 1 0 -2.0 0M671.50 49.20a1.0 1.0 0 1 0 2.0 0a1.0 1.0 0 1 0 -2.0 0M673.10 68.20a1.0 1.0 0 1 0 2.0 0a1.0 1.0 0 1 0 -2.0 0M675.70 57.70a1.0 1.0 0 1 0 2.0 0a1.0 1.0 0 1 0 -2.0 0M676.50 58.50a1.0 1.0 0 1 0 2.0 0a1.0 1.0 0 1 0 -2.0 0M677.90 59.90a1.0 1.0 0 1 0 2.0 0a1.0 1.0 0 1 0 -2.0 0M677.10 71.20a1.0 1.0 0 1 0 2.0 0a1.0 1.0 0 1 0 -2.0 0" fill="#4a66de"/>
<path d="M390.70 132.80V233.50H684.00" fill="none" stroke="#303030" stroke-width="1.25"/>
<path d="M387.70 233.50H390.70M387.70 208.40H390.70M387.70 183.30H390.70M387.70 158.20H390.70M387.70 133.10H390.70M390.70 233.50V236.50M443.60 233.50V236.50M496.50 233.50V236.50M549.40 233.50V236.50M602.30 233.50V236.50M655.20 233.50V236.50" fill="none" stroke="#303030" stroke-width="1.1"/>
<text x="419.78" y="236.80" transform="scale(0.92 1)" text-anchor="end" font-size="8.6">0</text>
<text x="419.78" y="211.70" transform="scale(0.92 1)" text-anchor="end" font-size="8.6">0.25</text>
<text x="419.78" y="186.60" transform="scale(0.92 1)" text-anchor="end" font-size="8.6">0.5</text>
<text x="419.78" y="161.50" transform="scale(0.92 1)" text-anchor="end" font-size="8.6">0.75</text>
<text x="419.78" y="136.40" transform="scale(0.92 1)" text-anchor="end" font-size="8.6">1</text>
<text x="424.67" y="244.20" transform="scale(0.92 1)" text-anchor="middle" font-size="8.6">0</text>
<text x="482.17" y="244.20" transform="scale(0.92 1)" text-anchor="middle" font-size="8.6">5</text>
<text x="539.67" y="244.20" transform="scale(0.92 1)" text-anchor="middle" font-size="8.6">10</text>
<text x="597.17" y="244.20" transform="scale(0.92 1)" text-anchor="middle" font-size="8.6">15</text>
<text x="654.67" y="244.20" transform="scale(0.92 1)" text-anchor="middle" font-size="8.6">20</text>
<text x="712.17" y="244.20" transform="scale(0.92 1)" text-anchor="middle" font-size="8.6">25</text>
<text x="354.70" y="138.00" font-size="12.2">(g)</text>
<path d="M402.0 198.3 L415.6 201.3 L421.5 182.3 L426.3 188.3 L427.9 200.5 L430.3 202.2 L432.5 197.2 L486.6 218.5 L495.1 205.7 L516.4 195.1 L535.0 180.5 L566.9 178.7 L577.2 178.2 L587.6 186.1 L596.8 183.2 L603.1 182.1 L615.5 181.0 L622.0 184.4 L627.9 184.4 L643.0 148.1" fill="none" stroke="#80df9c" stroke-width="1" stroke-linejoin="round"/>
<path d="M397.90 189.60a1.0 1.0 0 1 0 2.0 0a1.0 1.0 0 1 0 -2.0 0M407.50 166.70a1.0 1.0 0 1 0 2.0 0a1.0 1.0 0 1 0 -2.0 0M405.60 225.40a1.0 1.0 0 1 0 2.0 0a1.0 1.0 0 1 0 -2.0 0M423.80 166.70a1.0 1.0 0 1 0 2.0 0a1.0 1.0 0 1 0 -2.0 0M420.80 192.60a1.0 1.0 0 1 0 2.0 0a1.0 1.0 0 1 0 -2.0 0M424.00 189.70a1.0 1.0 0 1 0 2.0 0a1.0 1.0 0 1 0 -2.0 0M426.90 189.70a1.0 1.0 0 1 0 2.0 0a1.0 1.0 0 1 0 -2.0 0M425.80 196.00a1.0 1.0 0 1 0 2.0 0a1.0 1.0 0 1 0 -2.0 0M430.40 199.50a1.0 1.0 0 1 0 2.0 0a1.0 1.0 0 1 0 -2.0 0M427.20 208.70a1.0 1.0 0 1 0 2.0 0a1.0 1.0 0 1 0 -2.0 0M429.50 213.70a1.0 1.0 0 1 0 2.0 0a1.0 1.0 0 1 0 -2.0 0M445.30 133.00a1.0 1.0 0 1 0 2.0 0a1.0 1.0 0 1 0 -2.0 0M473.20 221.30a1.0 1.0 0 1 0 2.0 0a1.0 1.0 0 1 0 -2.0 0M479.00 220.40a1.0 1.0 0 1 0 2.0 0a1.0 1.0 0 1 0 -2.0 0M499.90 215.10a1.0 1.0 0 1 0 2.0 0a1.0 1.0 0 1 0 -2.0 0M508.40 170.20a1.0 1.0 0 1 0 2.0 0a1.0 1.0 0 1 0 -2.0 0M556.70 190.60a1.0 1.0 0 1 0 2.0 0a1.0 1.0 0 1 0 -2.0 0M564.80 193.50a1.0 1.0 0 1 0 2.0 0a1.0 1.0 0 1 0 -2.0 0M565.90 169.30a1.0 1.0 0 1 0 2.0 0a1.0 1.0 0 1 0 -2.0 0M577.40 189.70a1.0 1.0 0 1 0 2.0 0a1.0 1.0 0 1 0 -2.0 0M590.50 180.50a1.0 1.0 0 1 0 2.0 0a1.0 1.0 0 1 0 -2.0 0M602.60 179.50a1.0 1.0 0 1 0 2.0 0a1.0 1.0 0 1 0 -2.0 0M599.90 200.20a1.0 1.0 0 1 0 2.0 0a1.0 1.0 0 1 0 -2.0 0M625.60 176.80a1.0 1.0 0 1 0 2.0 0a1.0 1.0 0 1 0 -2.0 0M630.40 167.90a1.0 1.0 0 1 0 2.0 0a1.0 1.0 0 1 0 -2.0 0M630.40 179.60a1.0 1.0 0 1 0 2.0 0a1.0 1.0 0 1 0 -2.0 0M626.50 195.40a1.0 1.0 0 1 0 2.0 0a1.0 1.0 0 1 0 -2.0 0M650.80 133.00a1.0 1.0 0 1 0 2.0 0a1.0 1.0 0 1 0 -2.0 0M661.80 133.00a1.0 1.0 0 1 0 2.0 0a1.0 1.0 0 1 0 -2.0 0" fill="#4a66de"/>
<path d="M390.70 262.10V362.60H683.00" fill="none" stroke="#303030" stroke-width="1.25"/>
<path d="M387.70 362.60H390.70M387.70 337.55H390.70M387.70 312.50H390.70M387.70 287.45H390.70M387.70 262.40H390.70M390.70 362.60V365.60M448.30 362.60V365.60M505.90 362.60V365.60M563.50 362.60V365.60M621.10 362.60V365.60M678.70 362.60V365.60" fill="none" stroke="#303030" stroke-width="1.1"/>
<text x="419.78" y="365.90" transform="scale(0.92 1)" text-anchor="end" font-size="8.6">0</text>
<text x="419.78" y="340.85" transform="scale(0.92 1)" text-anchor="end" font-size="8.6">0.25</text>
<text x="419.78" y="315.80" transform="scale(0.92 1)" text-anchor="end" font-size="8.6">0.5</text>
<text x="419.78" y="290.75" transform="scale(0.92 1)" text-anchor="end" font-size="8.6">0.75</text>
<text x="419.78" y="265.70" transform="scale(0.92 1)" text-anchor="end" font-size="8.6">1</text>
<text x="424.67" y="373.30" transform="scale(0.92 1)" text-anchor="middle" font-size="8.6">0</text>
<text x="487.28" y="373.30" transform="scale(0.92 1)" text-anchor="middle" font-size="8.6">5</text>
<text x="549.89" y="373.30" transform="scale(0.92 1)" text-anchor="middle" font-size="8.6">10</text>
<text x="612.50" y="373.30" transform="scale(0.92 1)" text-anchor="middle" font-size="8.6">15</text>
<text x="675.11" y="373.30" transform="scale(0.92 1)" text-anchor="middle" font-size="8.6">20</text>
<text x="737.72" y="373.30" transform="scale(0.92 1)" text-anchor="middle" font-size="8.6">25</text>
<text x="357.30" y="266.70" font-size="12.2">(h)</text>
<path d="M413.1 271.3 L450.7 293.1 L458.4 300.8 L459.6 319.7 L474.7 321.5 L485.3 312.6 L491.0 305.2 L498.6 308.2 L515.5 320.3 L528.8 318.3 L533.2 321.5 L540.3 317.1 L546.2 320.6 L554.5 317.4 L557.7 312.6 L558.6 304.3 L562.7 297.6 L566.9 299.3 L580.7 308.6 L582.9 302.5 L592.4 311.4 L602.7 316.5 L607.5 305.5 L613.3 302.4 L616.4 296.1" fill="none" stroke="#80df9c" stroke-width="1" stroke-linejoin="round"/>
<path d="M408.10 300.00a1.0 1.0 0 1 0 2.0 0a1.0 1.0 0 1 0 -2.0 0M411.60 268.30a1.0 1.0 0 1 0 2.0 0a1.0 1.0 0 1 0 -2.0 0M431.60 295.80a1.0 1.0 0 1 0 2.0 0a1.0 1.0 0 1 0 -2.0 0M450.30 305.50a1.0 1.0 0 1 0 2.0 0a1.0 1.0 0 1 0 -2.0 0M456.80 286.90a1.0 1.0 0 1 0 2.0 0a1.0 1.0 0 1 0 -2.0 0M457.20 315.00a1.0 1.0 0 1 0 2.0 0a1.0 1.0 0 1 0 -2.0 0M462.00 342.80a1.0 1.0 0 1 0 2.0 0a1.0 1.0 0 1 0 -2.0 0M467.10 312.60a1.0 1.0 0 1 0 2.0 0a1.0 1.0 0 1 0 -2.0 0M479.40 315.80a1.0 1.0 0 1 0 2.0 0a1.0 1.0 0 1 0 -2.0 0M487.30 319.90a1.0 1.0 0 1 0 2.0 0a1.0 1.0 0 1 0 -2.0 0M490.50 300.20a1.0 1.0 0 1 0 2.0 0a1.0 1.0 0 1 0 -2.0 0M489.30 307.70a1.0 1.0 0 1 0 2.0 0a1.0 1.0 0 1 0 -2.0 0M506.00 316.70a1.0 1.0 0 1 0 2.0 0a1.0 1.0 0 1 0 -2.0 0M512.00 329.50a1.0 1.0 0 1 0 2.0 0a1.0 1.0 0 1 0 -2.0 0M526.90 323.80a1.0 1.0 0 1 0 2.0 0a1.0 1.0 0 1 0 -2.0 0M531.30 312.60a1.0 1.0 0 1 0 2.0 0a1.0 1.0 0 1 0 -2.0 0M536.80 327.70a1.0 1.0 0 1 0 2.0 0a1.0 1.0 0 1 0 -2.0 0M548.70 310.70a1.0 1.0 0 1 0 2.0 0a1.0 1.0 0 1 0 -2.0 0M549.20 324.20a1.0 1.0 0 1 0 2.0 0a1.0 1.0 0 1 0 -2.0 0M555.40 321.50a1.0 1.0 0 1 0 2.0 0a1.0 1.0 0 1 0 -2.0 0M556.50 304.00a1.0 1.0 0 1 0 2.0 0a1.0 1.0 0 1 0 -2.0 0M557.60 302.40a1.0 1.0 0 1 0 2.0 0a1.0 1.0 0 1 0 -2.0 0M557.60 312.60a1.0 1.0 0 1 0 2.0 0a1.0 1.0 0 1 0 -2.0 0M566.10 289.80a1.0 1.0 0 1 0 2.0 0a1.0 1.0 0 1 0 -2.0 0M566.60 299.90a1.0 1.0 0 1 0 2.0 0a1.0 1.0 0 1 0 -2.0 0M574.80 329.50a1.0 1.0 0 1 0 2.0 0a1.0 1.0 0 1 0 -2.0 0M576.00 276.60a1.0 1.0 0 1 0 2.0 0a1.0 1.0 0 1 0 -2.0 0M583.10 310.90a1.0 1.0 0 1 0 2.0 0a1.0 1.0 0 1 0 -2.0 0M585.60 262.10a1.0 1.0 0 1 0 2.0 0a1.0 1.0 0 1 0 -2.0 0M600.30 314.40a1.0 1.0 0 1 0 2.0 0a1.0 1.0 0 1 0 -2.0 0M611.80 289.10a1.0 1.0 0 1 0 2.0 0a1.0 1.0 0 1 0 -2.0 0M614.80 316.50a1.0 1.0 0 1 0 2.0 0a1.0 1.0 0 1 0 -2.0 0M610.20 334.30a1.0 1.0 0 1 0 2.0 0a1.0 1.0 0 1 0 -2.0 0M638.10 282.50a1.0 1.0 0 1 0 2.0 0a1.0 1.0 0 1 0 -2.0 0" fill="#4a66de"/>
<path d="M390.70 390.30V491.00H680.60" fill="none" stroke="#303030" stroke-width="1.25"/>
<path d="M387.70 491.00H390.70M387.70 465.90H390.70M387.70 440.80H390.70M387.70 415.70H390.70M387.70 390.60H390.70M390.70 491.00V494.00M414.74 491.00V494.00M438.78 491.00V494.00M462.82 491.00V494.00M486.86 491.00V494.00M510.90 491.00V494.00M534.94 491.00V494.00M558.98 491.00V494.00M583.02 491.00V494.00M607.06 491.00V494.00M631.10 491.00V494.00M655.14 491.00V494.00M679.18 491.00V494.00" fill="none" stroke="#303030" stroke-width="1.1"/>
<text x="419.78" y="494.30" transform="scale(0.92 1)" text-anchor="end" font-size="8.6">0</text>
<text x="419.78" y="469.20" transform="scale(0.92 1)" text-anchor="end" font-size="8.6">0.25</text>
<text x="419.78" y="444.10" transform="scale(0.92 1)" text-anchor="end" font-size="8.6">0.5</text>
<text x="419.78" y="419.00" transform="scale(0.92 1)" text-anchor="end" font-size="8.6">0.75</text>
<text x="419.78" y="393.90" transform="scale(0.92 1)" text-anchor="end" font-size="8.6">1</text>
<text x="424.67" y="501.70" transform="scale(0.92 1)" text-anchor="middle" font-size="8.6">0</text>
<text x="450.80" y="501.70" transform="scale(0.92 1)" text-anchor="middle" font-size="8.6">5</text>
<text x="476.93" y="501.70" transform="scale(0.92 1)" text-anchor="middle" font-size="8.6">10</text>
<text x="503.07" y="501.70" transform="scale(0.92 1)" text-anchor="middle" font-size="8.6">15</text>
<text x="529.20" y="501.70" transform="scale(0.92 1)" text-anchor="middle" font-size="8.6">20</text>
<text x="555.33" y="501.70" transform="scale(0.92 1)" text-anchor="middle" font-size="8.6">25</text>
<text x="581.46" y="501.70" transform="scale(0.92 1)" text-anchor="middle" font-size="8.6">30</text>
<text x="607.59" y="501.70" transform="scale(0.92 1)" text-anchor="middle" font-size="8.6">35</text>
<text x="633.72" y="501.70" transform="scale(0.92 1)" text-anchor="middle" font-size="8.6">40</text>
<text x="659.85" y="501.70" transform="scale(0.92 1)" text-anchor="middle" font-size="8.6">45</text>
<text x="685.98" y="501.70" transform="scale(0.92 1)" text-anchor="middle" font-size="8.6">50</text>
<text x="712.11" y="501.70" transform="scale(0.92 1)" text-anchor="middle" font-size="8.6">55</text>
<text x="738.24" y="501.70" transform="scale(0.92 1)" text-anchor="middle" font-size="8.6">60</text>
<text x="357.30" y="394.90" font-size="12.2">(i)</text>
<path d="M392.4 428.8 L394.5 435.0 L397.0 446.9 L402.1 449.5 L406.0 446.9 L407.7 453.4 L410.3 448.6 L411.4 452.9 L413.7 441.5 L415.7 450.3 L420.8 450.3 L428.4 437.9 L432.6 435.9 L439.1 444.7 L455.2 453.4 L471.7 448.3 L476.8 452.0 L481.3 462.7 L497.0 440.6 L501.7 444.9 L506.3 436.7 L509.3 429.4 L528.7 451.5 L536.0 451.5 L544.5 458.8 L549.6 456.2 L561.1 462.5 L576.7 445.2 L584.2 444.4 L585.1 437.9 L585.9 443.5 L591.5 443.5 L597.0 452.0 L606.3 462.2 L612.2 464.4 L631.7 459.3 L658.4 460.0 L663.1 477.5 L665.7 479.1 L668.2 477.1" fill="none" stroke="#80df9c" stroke-width="1" stroke-linejoin="round"/>
<path d="M391.30 424.00a1.0 1.0 0 1 0 2.0 0a1.0 1.0 0 1 0 -2.0 0M390.90 434.50a1.0 1.0 0 1 0 2.0 0a1.0 1.0 0 1 0 -2.0 0M394.00 433.70a1.0 1.0 0 1 0 2.0 0a1.0 1.0 0 1 0 -2.0 0M396.90 449.80a1.0 1.0 0 1 0 2.0 0a1.0 1.0 0 1 0 -2.0 0M400.80 465.90a1.0 1.0 0 1 0 2.0 0a1.0 1.0 0 1 0 -2.0 0M405.70 440.60a1.0 1.0 0 1 0 2.0 0a1.0 1.0 0 1 0 -2.0 0M407.10 443.90a1.0 1.0 0 1 0 2.0 0a1.0 1.0 0 1 0 -2.0 0M408.10 471.90a1.0 1.0 0 1 0 2.0 0a1.0 1.0 0 1 0 -2.0 0M411.80 433.70a1.0 1.0 0 1 0 2.0 0a1.0 1.0 0 1 0 -2.0 0M413.00 440.60a1.0 1.0 0 1 0 2.0 0a1.0 1.0 0 1 0 -2.0 0M412.50 468.80a1.0 1.0 0 1 0 2.0 0a1.0 1.0 0 1 0 -2.0 0M416.60 453.40a1.0 1.0 0 1 0 2.0 0a1.0 1.0 0 1 0 -2.0 0M417.40 454.70a1.0 1.0 0 1 0 2.0 0a1.0 1.0 0 1 0 -2.0 0M424.50 443.90a1.0 1.0 0 1 0 2.0 0a1.0 1.0 0 1 0 -2.0 0M427.90 435.00a1.0 1.0 0 1 0 2.0 0a1.0 1.0 0 1 0 -2.0 0M430.00 436.90a1.0 1.0 0 1 0 2.0 0a1.0 1.0 0 1 0 -2.0 0M431.10 424.00a1.0 1.0 0 1 0 2.0 0a1.0 1.0 0 1 0 -2.0 0M431.30 436.70a1.0 1.0 0 1 0 2.0 0a1.0 1.0 0 1 0 -2.0 0M433.00 440.60a1.0 1.0 0 1 0 2.0 0a1.0 1.0 0 1 0 -2.0 0M434.50 430.60a1.0 1.0 0 1 0 2.0 0a1.0 1.0 0 1 0 -2.0 0M444.70 465.90a1.0 1.0 0 1 0 2.0 0a1.0 1.0 0 1 0 -2.0 0M462.70 457.60a1.0 1.0 0 1 0 2.0 0a1.0 1.0 0 1 0 -2.0 0M472.50 442.80a1.0 1.0 0 1 0 2.0 0a1.0 1.0 0 1 0 -2.0 0M475.40 447.90a1.0 1.0 0 1 0 2.0 0a1.0 1.0 0 1 0 -2.0 0M480.50 464.70a1.0 1.0 0 1 0 2.0 0a1.0 1.0 0 1 0 -2.0 0M486.30 479.10a1.0 1.0 0 1 0 2.0 0a1.0 1.0 0 1 0 -2.0 0M487.00 433.70a1.0 1.0 0 1 0 2.0 0a1.0 1.0 0 1 0 -2.0 0M500.70 435.60a1.0 1.0 0 1 0 2.0 0a1.0 1.0 0 1 0 -2.0 0M501.20 446.40a1.0 1.0 0 1 0 2.0 0a1.0 1.0 0 1 0 -2.0 0M500.90 452.90a1.0 1.0 0 1 0 2.0 0a1.0 1.0 0 1 0 -2.0 0M507.00 421.80a1.0 1.0 0 1 0 2.0 0a1.0 1.0 0 1 0 -2.0 0M509.90 421.30a1.0 1.0 0 1 0 2.0 0a1.0 1.0 0 1 0 -2.0 0M508.30 444.00a1.0 1.0 0 1 0 2.0 0a1.0 1.0 0 1 0 -2.0 0M542.80 465.90a1.0 1.0 0 1 0 2.0 0a1.0 1.0 0 1 0 -2.0 0M549.10 465.90a1.0 1.0 0 1 0 2.0 0a1.0 1.0 0 1 0 -2.0 0M546.70 433.70a1.0 1.0 0 1 0 2.0 0a1.0 1.0 0 1 0 -2.0 0M548.00 390.40a1.0 1.0 0 1 0 2.0 0a1.0 1.0 0 1 0 -2.0 0M556.90 450.80a1.0 1.0 0 1 0 2.0 0a1.0 1.0 0 1 0 -2.0 0M581.80 469.50a1.0 1.0 0 1 0 2.0 0a1.0 1.0 0 1 0 -2.0 0M583.50 429.10a1.0 1.0 0 1 0 2.0 0a1.0 1.0 0 1 0 -2.0 0M583.50 447.30a1.0 1.0 0 1 0 2.0 0a1.0 1.0 0 1 0 -2.0 0M585.80 440.60a1.0 1.0 0 1 0 2.0 0a1.0 1.0 0 1 0 -2.0 0M591.20 445.20a1.0 1.0 0 1 0 2.0 0a1.0 1.0 0 1 0 -2.0 0M597.30 445.70a1.0 1.0 0 1 0 2.0 0a1.0 1.0 0 1 0 -2.0 0M599.00 463.90a1.0 1.0 0 1 0 2.0 0a1.0 1.0 0 1 0 -2.0 0M626.20 481.90a1.0 1.0 0 1 0 2.0 0a1.0 1.0 0 1 0 -2.0 0M638.90 390.40a1.0 1.0 0 1 0 2.0 0a1.0 1.0 0 1 0 -2.0 0M654.70 390.40a1.0 1.0 0 1 0 2.0 0a1.0 1.0 0 1 0 -2.0 0M662.10 479.70a1.0 1.0 0 1 0 2.0 0a1.0 1.0 0 1 0 -2.0 0M662.80 480.30a1.0 1.0 0 1 0 2.0 0a1.0 1.0 0 1 0 -2.0 0M669.40 478.30a1.0 1.0 0 1 0 2.0 0a1.0 1.0 0 1 0 -2.0 0M671.50 469.80a1.0 1.0 0 1 0 2.0 0a1.0 1.0 0 1 0 -2.0 0" fill="#4a66de"/>
<path d="M390.70 517.30V618.00H684.00" fill="none" stroke="#303030" stroke-width="1.25"/>
<path d="M387.70 618.00H390.70M387.70 592.90H390.70M387.70 567.80H390.70M387.70 542.70H390.70M387.70 517.60H390.70M390.70 618.00V621.00M455.65 618.00V621.00M520.60 618.00V621.00M585.55 618.00V621.00M650.50 618.00V621.00" fill="none" stroke="#303030" stroke-width="1.1"/>
<text x="419.78" y="621.30" transform="scale(0.92 1)" text-anchor="end" font-size="8.6">0</text>
<text x="419.78" y="596.20" transform="scale(0.92 1)" text-anchor="end" font-size="8.6">0.25</text>
<text x="419.78" y="571.10" transform="scale(0.92 1)" text-anchor="end" font-size="8.6">0.5</text>
<text x="419.78" y="546.00" transform="scale(0.92 1)" text-anchor="end" font-size="8.6">0.75</text>
<text x="419.78" y="520.90" transform="scale(0.92 1)" text-anchor="end" font-size="8.6">1</text>
<text x="424.67" y="628.70" transform="scale(0.92 1)" text-anchor="middle" font-size="8.6">0</text>
<text x="495.27" y="628.70" transform="scale(0.92 1)" text-anchor="middle" font-size="8.6">5</text>
<text x="565.87" y="628.70" transform="scale(0.92 1)" text-anchor="middle" font-size="8.6">10</text>
<text x="636.47" y="628.70" transform="scale(0.92 1)" text-anchor="middle" font-size="8.6">15</text>
<text x="707.07" y="628.70" transform="scale(0.92 1)" text-anchor="middle" font-size="8.6">20</text>
<text x="356.00" y="523.50" font-size="12.2">(j)</text>
<path d="M470.3 559.3 L488.9 554.9 L517.4 552.7 L530.0 551.9 L550.4 550.3 L575.3 553.0 L599.0 555.3 L614.9 551.2 L617.1 553.0 L620.5 565.4 L623.9 572.7 L625.7 569.3 L630.7 570.0 L636.4 572.9 L642.0 572.9 L649.9 560.9" fill="none" stroke="#80df9c" stroke-width="1" stroke-linejoin="round"/>
<path d="M434.30 584.70a1.0 1.0 0 1 0 2.0 0a1.0 1.0 0 1 0 -2.0 0M494.30 541.10a1.0 1.0 0 1 0 2.0 0a1.0 1.0 0 1 0 -2.0 0M516.40 562.10a1.0 1.0 0 1 0 2.0 0a1.0 1.0 0 1 0 -2.0 0M610.50 553.00a1.0 1.0 0 1 0 2.0 0a1.0 1.0 0 1 0 -2.0 0M615.90 546.20a1.0 1.0 0 1 0 2.0 0a1.0 1.0 0 1 0 -2.0 0M615.40 554.60a1.0 1.0 0 1 0 2.0 0a1.0 1.0 0 1 0 -2.0 0M616.80 567.90a1.0 1.0 0 1 0 2.0 0a1.0 1.0 0 1 0 -2.0 0M625.20 561.60a1.0 1.0 0 1 0 2.0 0a1.0 1.0 0 1 0 -2.0 0M626.50 563.90a1.0 1.0 0 1 0 2.0 0a1.0 1.0 0 1 0 -2.0 0M621.10 590.80a1.0 1.0 0 1 0 2.0 0a1.0 1.0 0 1 0 -2.0 0M636.70 578.80a1.0 1.0 0 1 0 2.0 0a1.0 1.0 0 1 0 -2.0 0M639.90 575.20a1.0 1.0 0 1 0 2.0 0a1.0 1.0 0 1 0 -2.0 0M651.90 563.90a1.0 1.0 0 1 0 2.0 0a1.0 1.0 0 1 0 -2.0 0M656.60 543.70a1.0 1.0 0 1 0 2.0 0a1.0 1.0 0 1 0 -2.0 0" fill="#4a66de"/>
<circle cx="680" cy="118.6" r="0.6" fill="#aaa"/>
<circle cx="682.5" cy="246.6" r="0.6" fill="#aaa"/>
<circle cx="681.4" cy="375.8" r="0.6" fill="#aaa"/>
<text x="195.8" y="645.0" text-anchor="middle" font-size="9.4" textLength="92" lengthAdjust="spacingAndGlyphs">Genomic position (bp)</text>
<text x="537.3" y="645.0" text-anchor="middle" font-size="9.4" textLength="92" lengthAdjust="spacingAndGlyphs">Genomic position (bp)</text>
<text x="327.3" y="636.8" font-size="7.4">×</text><text x="332.8" y="636.9" font-size="6.5">10</text><text x="339.8" y="634.2" font-size="4.5">6</text>
<text x="668.8" y="636.8" font-size="7.4">×</text><text x="674.3" y="636.9" font-size="6.5">10</text><text x="681.3" y="634.2" font-size="4.5">6</text>
</svg>
</body></html>
